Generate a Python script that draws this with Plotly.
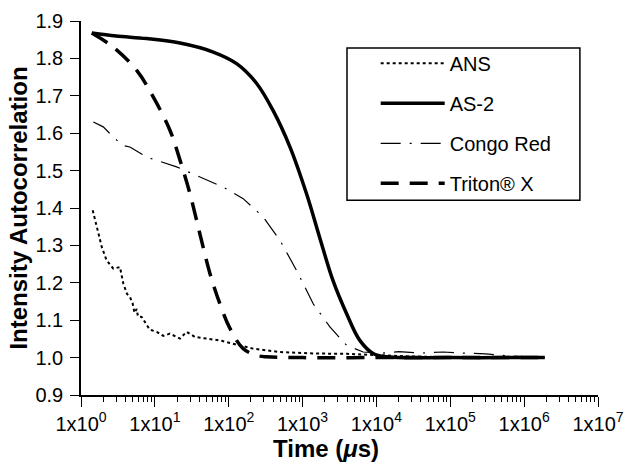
import plotly.graph_objects as go

# ---- data (time in microseconds, intensity autocorrelation) ----
ans_t = [1.44, 1.63, 1.91, 2.22, 2.74, 3.37, 3.74, 4.2, 4.6, 5.0, 5.3, 5.68, 5.9, 6.62, 7.74,
         8.5, 10.6, 13, 16, 21.9, 26.9, 35, 50, 80, 115, 214, 490, 1380, 3980, 1e4, 3e4, 1e5,
         1e6, 1.9e6]
ans_y = [1.394, 1.349, 1.296, 1.26, 1.238, 1.242, 1.198, 1.17, 1.162, 1.145, 1.12, 1.13, 1.11,
         1.109, 1.087, 1.075, 1.069, 1.058, 1.064, 1.051, 1.069, 1.055, 1.051, 1.045, 1.037,
         1.024, 1.015, 1.011, 1.01, 1.006, 1.003, 1.001, 1.0, 1.0]

as2_t = [1.4, 3, 7.74, 21.9, 61.7, 128, 239, 398, 676, 1132, 1700, 2570, 3936, 5957, 9016,
         13800, 1e5, 1e6, 1.9e6]
as2_y = [1.868, 1.86, 1.853, 1.841, 1.817, 1.786, 1.733, 1.661, 1.563, 1.438, 1.322, 1.207,
         1.118, 1.046, 1.011, 1.002, 1.0, 1.0, 1.0]

congo_t = [1.47, 2.0, 2.74, 3.6, 4.6, 7.74, 19.7, 36.8, 84.3, 157, 293, 493, 830, 1393, 2344,
           3936, 6607, 1.2e4, 2e4, 4e4, 8e4, 1.5e5, 3e5, 6e5, 1e6, 1.9e6]
congo_y = [1.63, 1.617, 1.59, 1.568, 1.563, 1.536, 1.51, 1.487, 1.456, 1.425, 1.376, 1.314,
           1.233, 1.144, 1.082, 1.033, 1.015, 1.012, 1.016, 1.012, 1.015, 1.012, 1.01, 1.005,
           1.002, 1.0]

triton_t = [1.4, 2.74, 5.68, 9.5, 16, 21.9, 29.9, 40.7, 55.7, 75.9, 104, 157, 239, 324, 1e3,
            1e4, 1e5, 1e6, 1.9e6]
triton_y = [1.868, 1.83, 1.768, 1.697, 1.608, 1.528, 1.438, 1.331, 1.225, 1.144, 1.078, 1.024,
            1.006, 1.002, 1.0, 1.0, 1.0, 1.0, 1.0]

x_tickvals = [1, 10, 100, 1e3, 1e4, 1e5, 1e6, 1e7]
x_ticktext = ["1x10<sup>%d</sup>" % k for k in range(8)]
x_minor = [m * 10 ** k for k in range(7) for m in range(2, 10)]
y_tickvals = [0.9, 1.0, 1.1, 1.2, 1.3, 1.4, 1.5, 1.6, 1.7, 1.8, 1.9]

FONT = "Liberation Sans, Arial, Helvetica, sans-serif"

fig = go.Figure()
fig.add_trace(go.Scatter(x=ans_t, y=ans_y, mode="lines", name="ANS", legendgroup="a",
                         line=dict(color="black", width=2, dash="dot")))
fig.add_trace(go.Scatter(x=as2_t, y=as2_y, mode="lines", name="AS-2", legendgroup="b",
                         line=dict(color="black", width=3.5, shape="spline")))
fig.add_trace(go.Scatter(x=congo_t, y=congo_y, mode="lines", name="Congo Red", legendgroup="c",
                         line=dict(color="black", width=1.2, dash="20px,9px,2px,9px")))
fig.add_trace(go.Scatter(x=triton_t, y=triton_y, mode="lines", name="Triton® X", legendgroup="d",
                         line=dict(color="black", width=3.5, dash="18px,11px", shape="spline")))

# legend frame
fig.add_shape(type="rect", xref="paper", yref="paper", x0=0.5145, x1=0.965, y0=0.521, y1=0.928,
              line=dict(color="black", width=1.5), fillcolor="white", layer="below")

# x-axis title
fig.add_annotation(text="<b>Time (<i>μ</i>s)</b>", xref="paper", yref="paper",
                   x=0.474, y=-0.144, xanchor="center", yanchor="middle", showarrow=False,
                   font=dict(size=24, family=FONT, color="black"))

fig.update_layout(
    width=626, height=464,
    margin=dict(l=81, r=28, t=21, b=69),
    paper_bgcolor="white", plot_bgcolor="white",
    font=dict(family=FONT, color="black", size=20),
    showlegend=True,
    legend=dict(x=0.570, y=0.939, xanchor="left", yanchor="top",
                borderwidth=0, bgcolor="rgba(0,0,0,0)",
                font=dict(size=20, family=FONT), tracegroupgap=11,
                itemwidth=64),
    xaxis=dict(type="log", range=[0, 7], tickmode="array", tickvals=x_tickvals,
               ticktext=x_ticktext, ticks="outside", ticklen=10, tickwidth=1.2,
               tickcolor="black", showline=True, linecolor="black", linewidth=1.5,
               showgrid=False, zeroline=False, automargin=False,
               minor=dict(tickmode="array", tickvals=x_minor, ticks="outside", ticklen=5,
                          tickwidth=0.8, tickcolor="black", showgrid=False),
               tickfont=dict(size=20, family=FONT)),
    yaxis=dict(range=[0.9, 1.9], tickmode="array", tickvals=y_tickvals,
               tickformat=".1f", ticks="outside", ticklen=9, tickwidth=1.2,
               tickcolor="black", showline=True, linecolor="black", linewidth=1.5,
               showgrid=False, zeroline=False, ticklabelstandoff=3, automargin=False,
               tickfont=dict(size=20, family=FONT),
               title=dict(text="<b>Intensity Autocorrelation</b>",
                          font=dict(size=24, family=FONT), standoff=1)),
)

fig.write_html("out.html", config={"displayModeBar": False},
               post_script="document.body.style.margin='0px';")
